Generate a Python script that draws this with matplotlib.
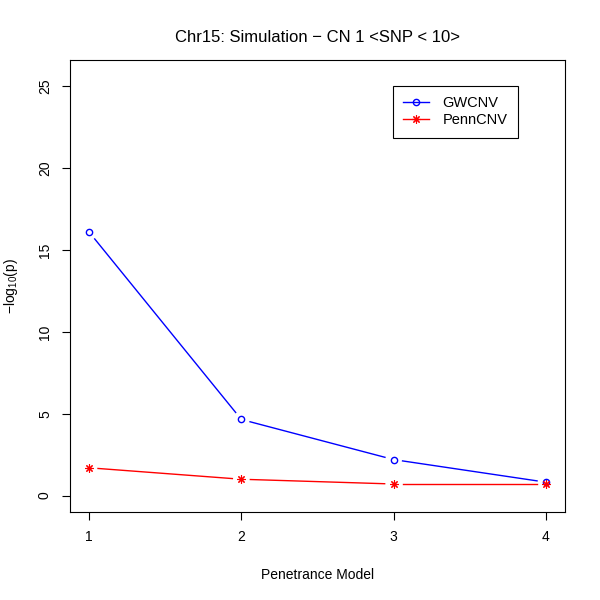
import matplotlib
matplotlib.use("Agg")
import matplotlib.pyplot as plt
import numpy as np

plt.rcParams['font.family'] = ['Liberation Sans', 'DejaVu Sans']
plt.rcParams['mathtext.fontset'] = 'custom'
plt.rcParams['mathtext.rm'] = 'Liberation Sans'
plt.rcParams['mathtext.it'] = 'Liberation Sans'

models = [1, 2, 3, 4]
gwcnv = [16.1, 4.65, 2.2, 0.82]
penncnv = [1.7, 1.0, 0.71, 0.71]
yticks = [0, 5, 10, 15, 20, 25]
title = "Chr15: Simulation \u2212 CN 1 <SNP < 10>"

fig = plt.figure(figsize=(6, 6), dpi=100)
ax = fig.add_axes([70/600, 88/600, 495/600, 452/600])
ax.set_xlim(0.875, 4.125)
ax.set_ylim(-1.0, 26.6)

def type_b(ax, x, y, color, marker, ms, mew):
    ax.plot(x, y, linestyle='none', marker=marker, ms=ms, mfc='none',
            mec=color, mew=mew, zorder=3)
    fig.canvas.draw()
    pts = ax.transData.transform(np.column_stack([x, y]))
    gap = 9.0
    inv = ax.transData.inverted()
    for i in range(len(x) - 1):
        p0, p1 = pts[i], pts[i + 1]
        d = p1 - p0
        L = np.hypot(*d)
        if L <= 2 * gap:
            continue
        u = d / L
        a = inv.transform(p0 + u * gap)
        b = inv.transform(p1 - u * gap)
        ax.plot([a[0], b[0]], [a[1], b[1]], color=color, lw=1.0, zorder=2)

type_b(ax, models, gwcnv, 'blue', 'o', 4.5, 1.0)
type_b(ax, models, penncnv, 'red', (8, 2, 0), 6, 0.8)

ax.set_xticks(models)
ax.set_xticklabels([str(m) for m in models])
ax.set_yticks(yticks)
ax.set_yticklabels([str(t) for t in yticks], rotation=90, va='center')
ax.tick_params(length=6, width=0.8, labelsize=10, pad=7)
for s in ax.spines.values():
    s.set_linewidth(0.8)

ax.set_xlabel("Penetrance Model", fontsize=10, labelpad=17)
ax.set_ylabel("\u2212log$_{10}$(p)", fontsize=10)
ax.yaxis.set_label_coords(-0.101, 0.5)
ax.set_title(title, fontsize=12, pad=13)

from matplotlib.lines import Line2D
h1 = Line2D([], [], color='blue', lw=1.0, marker='o', mfc='none', mec='blue', ms=4.5)
h2 = Line2D([], [], color='red', lw=1.0, marker=(8, 2, 0), mec='red', mew=0.8, ms=6)
leg = ax.legend([h1, h2], ["GWCNV", "PennCNV"], loc='upper left',
                bbox_to_anchor=(0.6525, 0.942), fontsize=10.5, fancybox=False,
                edgecolor='black', framealpha=1, borderaxespad=0,
                handlelength=1.8, labelspacing=0.2, borderpad=0.7, handletextpad=0.9)
leg.get_frame().set_linewidth(0.8)

fig.savefig("out.png", dpi=100)
